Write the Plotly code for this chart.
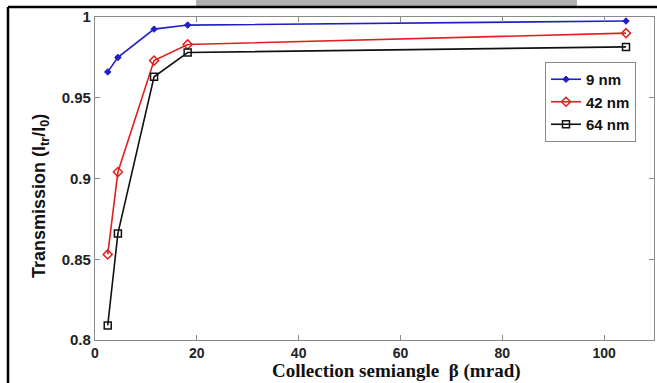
import plotly.graph_objects as go

# Data
beta = [2.5, 4.5, 11.6, 18.2, 104.3]
t_9nm = [0.966, 0.975, 0.9925, 0.995, 0.9975]
t_42nm = [0.853, 0.904, 0.973, 0.983, 0.990]
t_64nm = [0.809, 0.866, 0.963, 0.978, 0.9815]
series_names = ["9 nm", "42 nm", "64 nm"]
x_ticks = [0, 20, 40, 60, 80, 100]
y_ticks = [0.8, 0.85, 0.9, 0.95, 1]
y_tick_text = ["0.8", "0.85", "0.9", "0.95", "1"]

W, H = 657, 383
L, R, T, B = 95, 3, 17, 43
PW, PH = W - L - R, H - T - B


def px(x):
    return (x - L) / PW


def py(y):
    return (H - B - y) / PH


fig = go.Figure()
fig.add_trace(go.Scatter(
    x=beta, y=t_9nm, name=series_names[0], mode="lines+markers",
    line=dict(color="#1f1fc8", width=1.6),
    marker=dict(symbol="diamond", size=5, color="#1f1fc8",
                line=dict(color="#1f1fc8", width=1))))
fig.add_trace(go.Scatter(
    x=beta, y=t_42nm, name=series_names[1], mode="lines+markers",
    line=dict(color="#e02020", width=1.6),
    marker=dict(symbol="diamond-open", size=7, color="#e02020",
                line=dict(width=1.5))))
fig.add_trace(go.Scatter(
    x=beta, y=t_64nm, name=series_names[2], mode="lines+markers",
    line=dict(color="#111111", width=1.6),
    marker=dict(symbol="square-open", size=7, color="#111111",
                line=dict(width=1.5))))

axis_common = dict(
    showgrid=False, zeroline=False, showline=True, linecolor="#8a8a8a",
    linewidth=1.2, mirror="ticks", ticks="inside", ticklen=5,
    tickcolor="#8a8a8a", tickwidth=1,
    tickfont=dict(family="Arial, Liberation Sans", size=14, color="#222",
                  weight="bold"),
)

fig.update_xaxes(range=[0, 109.8], tickvals=x_ticks, **axis_common)
fig.update_yaxes(range=[0.8, 1.0], tickvals=y_ticks, ticktext=y_tick_text,
                 **axis_common)
fig.update_yaxes(tickfont=dict(size=15))

shapes = [
    # gray strip at the very top
    dict(type="rect", xref="paper", yref="paper", x0=px(196), x1=px(577),
         y0=py(0), y1=py(6), fillcolor="#b0b0b0", line=dict(width=0),
         layer="below"),
    # black frame lines
    dict(type="line", xref="paper", yref="paper", x0=px(8), x1=px(660),
         y0=py(7), y1=py(7), line=dict(color="black", width=2.5)),
    dict(type="line", xref="paper", yref="paper", x0=px(8), x1=px(8),
         y0=py(7), y1=py(390), line=dict(color="black", width=2.5)),
]

annotations = [
    dict(text="<b>Collection semiangle  β (mrad)</b>", xref="paper",
         yref="paper", x=px(396), y=py(383), xanchor="center",
         yanchor="bottom", showarrow=False, borderpad=0,
         font=dict(family="Liberation Serif, Times New Roman", size=19,
                   color="#111")),
    dict(text="<b>Transmission (I<sub>tr</sub>/I<sub>0</sub>)</b>",
         xref="paper", yref="paper", x=px(40), y=py(196), xanchor="center",
         yanchor="middle", textangle=-90, showarrow=False,
         font=dict(family="Arial, Liberation Sans", size=18, color="#111")),
]

fig.update_layout(
    width=W, height=H, margin=dict(l=L, r=R, t=T, b=B),
    paper_bgcolor="white", plot_bgcolor="white",
    shapes=shapes, annotations=annotations,
    legend=dict(x=px(636), y=py(62), xanchor="right", yanchor="top",
                bgcolor="white", bordercolor="#8a8a8a", borderwidth=1,
                font=dict(family="Arial, Liberation Sans", size=15,
                          color="#111", weight="bold"),
                tracegroupgap=0, itemwidth=30),
    showlegend=True,
)

fig.write_html(
    "out.html",
    config={"displayModeBar": False},
    post_script="document.body.style.margin='0';document.body.style.overflow='hidden';",
)
